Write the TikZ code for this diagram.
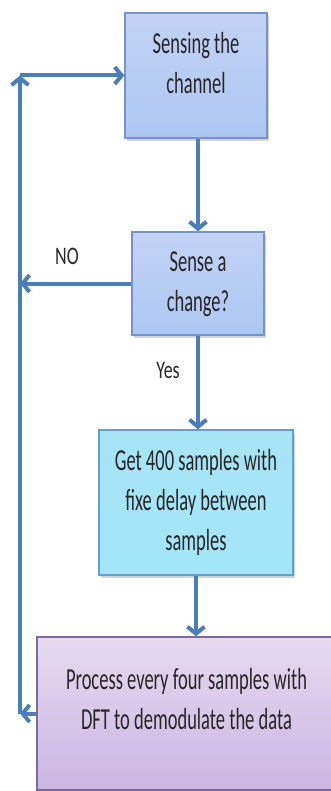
\documentclass[tikz,border=0pt]{standalone}
\usepackage{fontspec}
\setmainfont{Carlito}
\usepackage{graphicx}
\usetikzlibrary{positioning,arrows.meta,shadows}

\definecolor{flowblue}{HTML}{4A7EBB}
\definecolor{edgeblue}{HTML}{7393C9}
\definecolor{edgeteal}{HTML}{6A9CC8}
\definecolor{edgeplum}{HTML}{7D6A9A}
\definecolor{inkgray}{HTML}{262626}
\definecolor{blueTop}{HTML}{C2D3F5}
\definecolor{blueMid}{HTML}{D3E0F8}
\definecolor{blueBot}{HTML}{ADC6F2}
\definecolor{cyanTop}{HTML}{A6E4F6}
\definecolor{cyanMid}{HTML}{C9F1FB}
\definecolor{cyanBot}{HTML}{A3E6F8}
\definecolor{plumTop}{HTML}{E6DAF1}
\definecolor{plumMid}{HTML}{DACCED}
\definecolor{plumBot}{HTML}{C9B6E2}

% text of a box, stretched upright like the original
\newcommand{\boxlines}[2][0pt]{\raisebox{#1}[\height][\depth]{\scalebox{1}[1.65]{\begin{tabular}{@{}c@{}}#2\end{tabular}}}}
\newcommand{\tallword}[1]{\scalebox{1}[1.4]{#1}}

\begin{document}
\begin{tikzpicture}[x=1pt,y=-1pt,
    stepbox/.style={rectangle, line width=1.4pt, inner sep=0pt, text=inkgray,
      font=\fontsize{18.5}{24}\selectfont,
      drop shadow={shadow xshift=2pt,shadow yshift=-3pt,opacity=0.35}},
    bluebox/.style={stepbox, draw=edgeblue, top color=blueTop,
      middle color=blueMid, bottom color=blueBot},
    cyanbox/.style={stepbox, draw=edgeteal, top color=cyanTop,
      middle color=cyanMid, bottom color=cyanBot},
    plumbox/.style={stepbox, draw=edgeplum, top color=plumTop,
      middle color=plumMid, bottom color=plumBot},
    flow/.style={draw=flowblue, line width=4pt,
      -{Straight Barb[length=7pt,width=17pt]}},
    answer/.style={text=inkgray, font=\fontsize{18}{22}\selectfont}]
  % Fix the frame of the picture
  \useasboundingbox (0,0) rectangle (331,791);
  \clip (0,0) rectangle (331,791);
  % Draw the four steps
  \node[bluebox, minimum width=142pt, minimum height=125pt] (sense) at (196,75.5)
    {\boxlines[10pt]{Sensing the\\channel}};
  \node[bluebox, minimum width=132pt, minimum height=103pt] (change) at (198,283.5)
    {\boxlines{Sense a\\change?}};
  \node[cyanbox, minimum width=194pt, minimum height=145pt] (samples) at (196,502.5)
    {\boxlines{Get 400 samples with\\fixe delay between\\samples}};
  \node[plumbox, minimum width=299pt, minimum height=153pt] (process) at (186.5,713.5)
    {\boxlines[12pt]{Process every four samples with\\DFT to demodulate the data}};
  % Corner of the loop back
  \coordinate (loopTop) at (20,75.5);
  % Connect the steps
  \draw[flow] (change.north |- sense.south) -- (change.north);
  \draw[flow] (change.south) -- (change.south |- samples.north);
  \draw[flow] (samples.south) -- (samples.south |- process.north);
  \draw[flow] (change.west) -- (change.west -| loopTop);
  \draw[flow] (process.west) -- (process.west -| loopTop);
  \draw[flow] (process.west -| loopTop) -- (loopTop);
  \draw[flow] (loopTop) -- (sense.west);
  % Answers of the test
  \node[answer] (noLabel) at (67,256) {\tallword{NO}};
  \node[answer] (yesLabel) at (168,371) {\tallword{Yes}};
\end{tikzpicture}
\end{document}
